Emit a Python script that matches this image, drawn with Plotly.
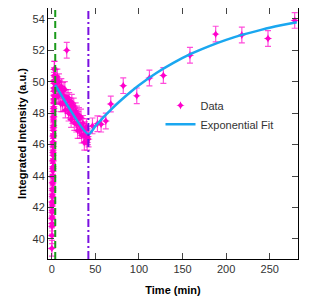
import plotly.graph_objects as go

# ---- data ----
# early rising column (t ~ 0-3 min)
t_rise0 = [0.2, 0.3, 0.3, 0.4, 0.4, 0.5, 0.5, 0.6, 0.6, 0.7, 0.7, 0.8, 0.8, 0.9,
           0.9, 1.0, 1.0, 1.1, 1.1, 1.2, 1.2, 1.3, 1.3, 1.4, 1.4, 1.5, 1.5, 1.6,
           1.6, 1.7, 1.7, 1.8, 1.8, 1.9, 1.9, 2.0, 2.0, 2.1, 2.1, 2.2, 2.2, 2.3,
           2.3, 2.4, 2.5, 2.5, 2.6, 2.7, 2.8, 2.9]
y_rise0 = [39.4, 40.2, 40.8, 41.0, 41.3, 41.4, 41.7, 41.8, 42.1, 42.3, 42.4, 42.7,
           42.8, 43.1, 43.2, 43.5, 43.6, 43.9, 44.0, 44.3, 44.5, 44.6, 44.9, 45.0,
           45.3, 45.5, 45.6, 45.9, 46.1, 46.2, 46.5, 46.6, 46.9, 47.1, 47.2, 47.5,
           47.7, 47.8, 48.1, 48.3, 48.4, 48.7, 48.9, 49.1, 49.4, 49.6, 49.9, 50.1,
           50.4, 50.8]

# decay phase (t ~ 3-42 min)
t_decay = [3.2, 3.8, 4.5, 5.1, 5.8, 6.4, 7.0, 7.7, 8.3, 9.0, 9.6, 10.3, 11.0, 11.6,
           12.3, 13.0, 13.6, 14.3, 15.0, 15.7, 16.4, 17.2, 17.9, 18.6, 19.3, 20.0,
           20.8, 21.5, 22.2, 23.0, 23.7, 24.4, 25.2, 25.9, 26.7, 27.4, 28.2, 28.9,
           29.7, 30.4, 31.2, 32.0, 32.7, 33.5, 34.3, 35.0, 35.8, 36.6, 37.4, 38.2,
           39.0, 39.8, 40.6, 41.4, 42.2]
y_decay = [50.8, 49.5, 50.3, 49.9, 49.05, 50.3, 49.55, 49.1, 50.0, 49.2, 49.6, 48.6,
           49.7, 49.2, 48.6, 49.45, 49.1, 48.65, 49.5, 48.2, 49.0, 52.0, 48.5, 49.0,
           48.0, 48.8, 48.2, 48.45, 47.6, 48.7, 47.85, 48.1, 48.45, 47.4, 47.8, 48.15,
           47.3, 47.95, 46.9, 47.6, 47.85, 46.9, 47.2, 47.75, 46.6, 47.15, 47.35, 46.6,
           46.15, 46.95, 46.5, 47.15, 46.15, 46.5, 46.35]

# recovery phase (sparse points)
t_recov = [46.7, 52.4, 56.6, 62.0, 67.7, 82.0, 97.5, 112.0, 128.0, 158.5, 188.0,
           218.0, 248.0, 278.6]
y_recov = [47.19, 47.33, 47.3, 47.5, 48.58, 49.75, 49.1, 50.24, 50.4, 51.68, 53.03,
           52.97, 52.75, 53.9]

err_value = 0.5

# fitted curve
t_fit = [4, 42, 50, 60, 70, 80, 90, 100, 120, 140, 160, 180, 200, 220, 240, 260, 281]
y_fit = [49.8, 46.65, 47.17, 47.78, 48.34, 48.85, 49.33, 49.77, 50.55, 51.21, 51.78,
         52.25, 52.66, 53.01, 53.30, 53.56, 53.79]

t_mark_green = 4
t_mark_purple = 42

x_ticks = [0, 50, 100, 150, 200, 250]
y_ticks = [40, 42, 44, 46, 48, 50, 52, 54]

# ---- figure ----
t_all = t_rise0 + t_decay + t_recov
y_all = y_rise0 + y_decay + y_recov

MAG = "#ff00cc"
FONT = "Liberation Sans, Arial, sans-serif"

fig = go.Figure()
fig.add_trace(go.Scatter(
    x=t_all, y=y_all, mode="markers", name="Data",
    marker=dict(symbol="star-diamond", size=6, color=MAG),
    error_y=dict(type="constant", value=err_value, color="rgba(255,0,204,0.7)",
                 thickness=1.2, width=3),
))
fig.add_trace(go.Scatter(
    x=t_fit, y=y_fit, mode="lines", name="Exponential Fit",
    line=dict(color="#1aa7f0", width=2.5, shape="spline", smoothing=0.6),
))

fig.add_vline(x=t_mark_green, line=dict(color="#1a9a1a", width=2, dash="7px,4px"))
fig.add_vline(x=t_mark_purple, line=dict(color="#7a10e0", width=2, dash="8px,3px,2px,3px"))

axis_common = dict(
    showgrid=False, zeroline=False, showline=True, linecolor="black", linewidth=1,
    mirror="allticks", ticks="inside", ticklen=6, tickcolor="#444",
    tickfont=dict(family=FONT, size=11, color="#333"),
)
fig.update_xaxes(range=[-4.3, 282.4], tickvals=x_ticks, **axis_common,
                 title=dict(text="<b>Time (min)</b>", font=dict(family=FONT, size=11, color="black"),
                            standoff=12))
fig.update_yaxes(range=[38.72, 54.69], tickvals=y_ticks, **axis_common,
                 title=dict(text="<b>Integrated Intensity (a.u.)</b>",
                            font=dict(family=FONT, size=11, color="black"), standoff=3))

fig.update_layout(
    width=321, height=300,
    margin=dict(l=40, r=31, t=0, b=49, autoexpand=False),
    plot_bgcolor="white", paper_bgcolor="white",
    showlegend=True,
    legend=dict(x=0.45, y=0.67, xanchor="left", yanchor="top",
                bgcolor="rgba(0,0,0,0)", font=dict(family=FONT, size=11, color="#333"),
                itemwidth=30),
)

fig.write_html("out.html")
